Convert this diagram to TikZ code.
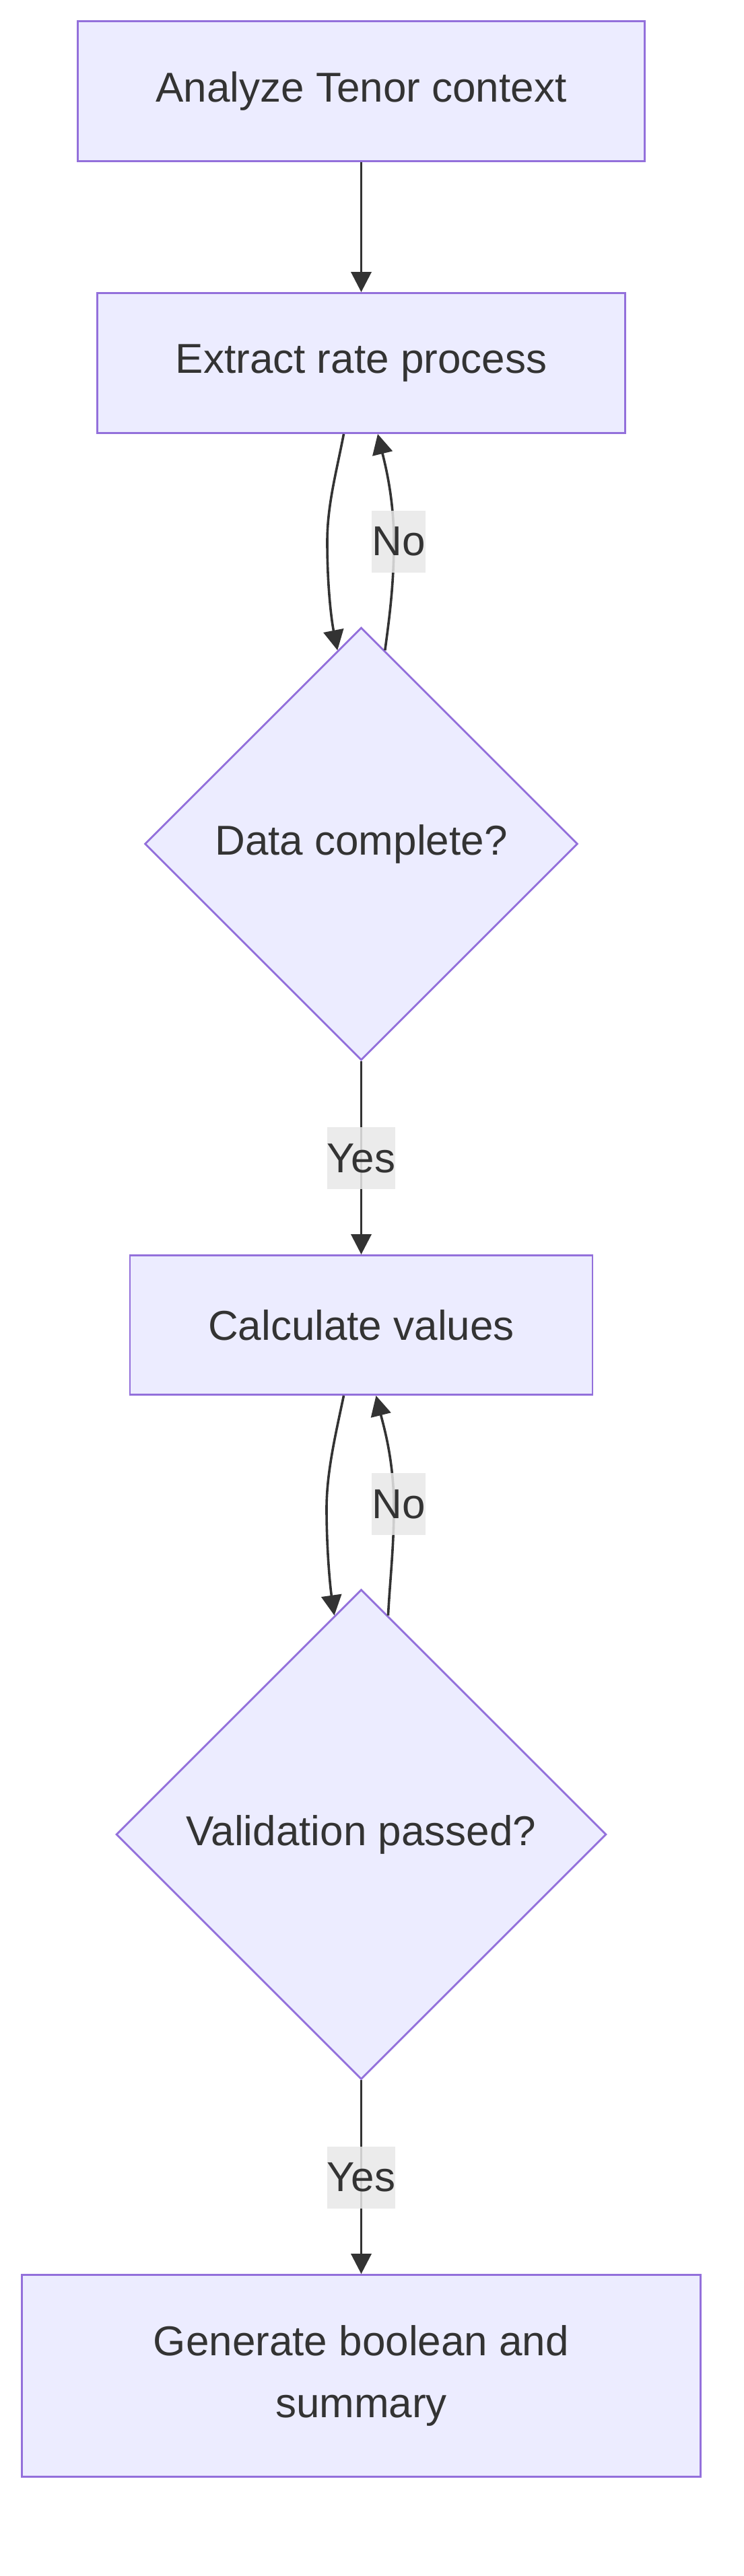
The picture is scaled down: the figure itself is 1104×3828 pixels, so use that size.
\documentclass[tikz,border=0pt]{standalone}
\usepackage{fontspec}
\setmainfont{Liberation Sans}
\usetikzlibrary{arrows.meta,shapes.geometric,calc}
\definecolor{nodefill}{HTML}{ECECFF}
\definecolor{nodeline}{HTML}{9370DB}
\definecolor{ink}{HTML}{333333}
\definecolor{lblfill}{HTML}{E8E8E8}
\tikzset{
  procbox/.style={rectangle, draw=nodeline, fill=nodefill, line width=2.8pt, text=ink,
    font=\fontsize{62}{92}\selectfont, align=center, inner sep=0pt},
  decision/.style={diamond, aspect=1, draw=nodeline, fill=nodefill, line width=2.8pt, text=ink,
    font=\fontsize{62}{92}\selectfont, inner sep=0pt},
  flow/.style={draw=ink, line width=3.6pt, -{Triangle[length=30pt,width=30pt]}},
  edgelabel/.style={fill=lblfill, fill opacity=0.85, text opacity=1, text=ink,
    font=\fontsize{62}{92}\selectfont, inner sep=0pt, minimum height=92pt}
}
\begin{document}
\begin{tikzpicture}[x=1pt,y=-1pt]
\fill[white] (0,0) rectangle (1104,3828);
\useasboundingbox (0,0) rectangle (1104,3828);

\node[procbox, minimum width=842pt, minimum height=208pt] (b1) at (536.5,135.5) {Analyze Tenor context};
\node[procbox, minimum width=784pt, minimum height=208pt] (b2) at (536.5,539.5) {Extract rate process};
\node[decision, minimum width=643pt, minimum height=643pt] (d1) at (536.5,1254) {Data complete?};
\node[procbox, minimum width=687pt, minimum height=207pt] (b3) at (536.5,1969) {Calculate values};
\node[decision, minimum width=728pt, minimum height=728pt] (d2) at (536.5,2726) {Validation passed?};
\node[procbox, minimum width=1008pt, minimum height=300pt] (b4) at (536.5,3530.5) {Generate boolean and\\summary};

% straight edges
\draw[flow] (b1.south) -- (b2.north);
\draw[flow] (d1.south) -- (b3.north);
\draw[flow] (d2.south) -- (b4.north);

% loop 1
\draw[flow] ($(b2.south)+(-26,0)$) .. controls (500,700) and (486,750) .. (486,805)
  .. controls (486,870) and (492,920) .. (d1.97.5);
\draw[flow] (d1.83.5) .. controls (578,920) and (585,870) .. (585,805)
  .. controls (585,740) and (572,690) .. ($(b2.south)+(24.5,0)$);

% loop 2
\draw[flow] ($(b3.south)+(-26,0)$) .. controls (499,2129) and (485,2187) .. (485,2242)
  .. controls (485,2300) and (490,2355) .. (d2.97.2);
\draw[flow] (d2.83.9) .. controls (579,2350) and (585,2300) .. (585,2240)
  .. controls (585,2170) and (570,2120) .. ($(b3.south)+(22,0)$);

% edge labels
\node[edgelabel] (n1) at (592,804.5) {No};
\node[edgelabel] (y1) at (536.5,1721) {Yes};
\node[edgelabel] (n2) at (592,2235) {No};
\node[edgelabel] (y2) at (536.5,3235.5) {Yes};
\end{tikzpicture}
\end{document}
